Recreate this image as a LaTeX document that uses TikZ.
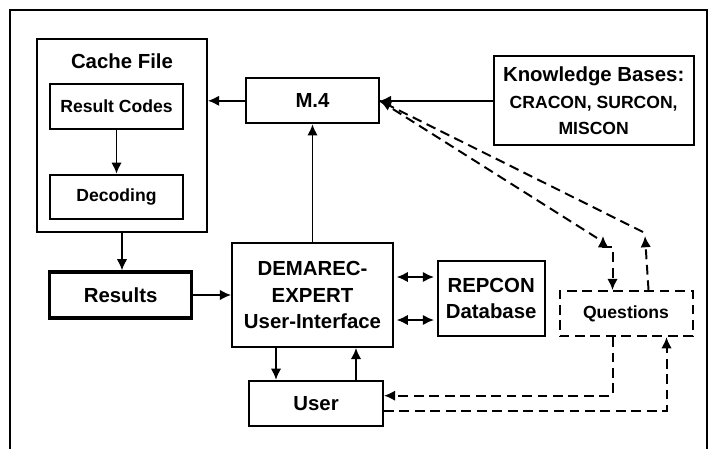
\documentclass[tikz,border=0pt]{standalone}
\usepackage{fontspec}
\setmainfont{Liberation Sans}
\usetikzlibrary{positioning}
\usetikzlibrary{calc}
\usetikzlibrary{arrows.meta}

\begin{document}
\begin{tikzpicture}[
    box/.style={draw, line width=1.2pt, inner sep=0pt, align=center, font=\bfseries\fontsize{14.5}{19}\selectfont},
    smallbox/.style={box, font=\bfseries\fontsize{12.5}{17}\selectfont},
    arr/.style={line width=1.4pt, -{Latex[length=8pt,width=7.5pt]}},
    arrboth/.style={line width=1.4pt, {Latex[length=8pt,width=7.5pt]}-{Latex[length=8pt,width=7.5pt]}},
    dsh/.style={line width=1.4pt, dash pattern=on 7pt off 4pt}]

    \useasboundingbox (0,0) rectangle (17.775,-11.225);
    \draw[line width=1.6pt] (0.25,-11.225) -- (0.25,-0.25) -- (17.675,-0.25) -- (17.675,-11.225);

    \node[box, minimum width=4.025cm, minimum height=2.6cm] (ui) at (7.8125,-7.375) {DEMAREC-\\EXPERT\\User-Interface};
    \node[box, above=2.95cm of ui, minimum width=3.325cm, minimum height=1.125cm] (m4) {M.4};
    \node[box, below=0.8cm of ui, xshift=0.09cm, minimum width=3.35cm, minimum height=1.125cm] (user) {User};
    \node[box, left=0.95cm of ui, line width=2.2pt, minimum width=3.55cm, minimum height=1.15cm] (results) {Results};
    \node[box, right=1.075cm of ui, yshift=-0.09cm, minimum width=2.675cm, minimum height=1.875cm] (repcon) {REPCON\\Database};
    \node[smallbox, dsh, right=0.325cm of repcon, yshift=-0.375cm, minimum width=3.325cm, minimum height=1.125cm] (quest) {Questions};
    \node[box, right=2.825cm of m4, minimum width=5cm, minimum height=2.225cm] (kb) {Knowledge Bases:\\{\fontsize{12.5}{18}\selectfont CRACON, SURCON,}\\{\fontsize{12.5}{18}\selectfont MISCON}};

    \node[box, minimum width=4.25cm, minimum height=4.825cm] (cache) at (3.05,-3.3875) {};
    \node[font=\bfseries\fontsize{14.5}{17}\selectfont, inner sep=0pt] (title) at ([yshift=-0.575cm]cache.north) {Cache File};
    \node[smallbox, minimum width=3.325cm, minimum height=1.125cm] (codes) at (2.9125,-2.6625) {Result Codes};
    \node[smallbox, below=1.1cm of codes, minimum width=3.325cm, minimum height=1.1cm] (decoding) {Decoding};

    \coordinate (kl) at (14.925,-5.95);
    \coordinate (kr) at (16.075,-5.8);
    \coordinate (ql) at (15.075,-5.9);
    \coordinate (qr) at (16.125,-5.9);

    \draw[arr] (codes) -- (decoding);
    \draw[arr] (m4.west) -- (m4.west -| cache.east);
    \draw[arr] (kb.west) -- (m4.east);
    \draw[arr] (ui.north) -- (m4.south);
    \draw[arr] (cache.south) -- (cache.south |- results.north);
    \draw[arr] (results.east) -- (ui.west);

    \draw[arrboth, shorten <=2pt, shorten >=2pt] ([yshift=0.45cm]ui.east) -- ([yshift=0.45cm]ui.east -| repcon.west);
    \draw[arrboth, shorten <=2pt, shorten >=2pt] ([yshift=-0.625cm]ui.east) -- ([yshift=-0.625cm]ui.east -| repcon.west);

    \draw[arr] ([xshift=-0.9125cm]ui.south) -- ([xshift=-0.9125cm]ui.south |- user.north);
    \draw[arr] ([xshift=1.0875cm]ui.south |- user.north) -- ([xshift=1.0875cm]ui.south);

    \draw[dsh] (m4.east) -- (kl);
    \draw[dsh, arr] (kr) -- (m4.east);
    \draw[dsh, arrboth] (ql) -- ++(0,-0.275) -| ([xshift=-0.3375cm]quest.north);
    \draw[dsh, arr] ([xshift=0.5625cm]quest.north) -- (qr);

    \draw[dsh, arr] ([xshift=-0.3375cm]quest.south) |- ([yshift=0.1875cm]user.east);
    \draw[dsh, arr] ([yshift=-0.1875cm]user.east) -| ([xshift=1.0125cm]quest.south);

\end{tikzpicture}
\end{document}
